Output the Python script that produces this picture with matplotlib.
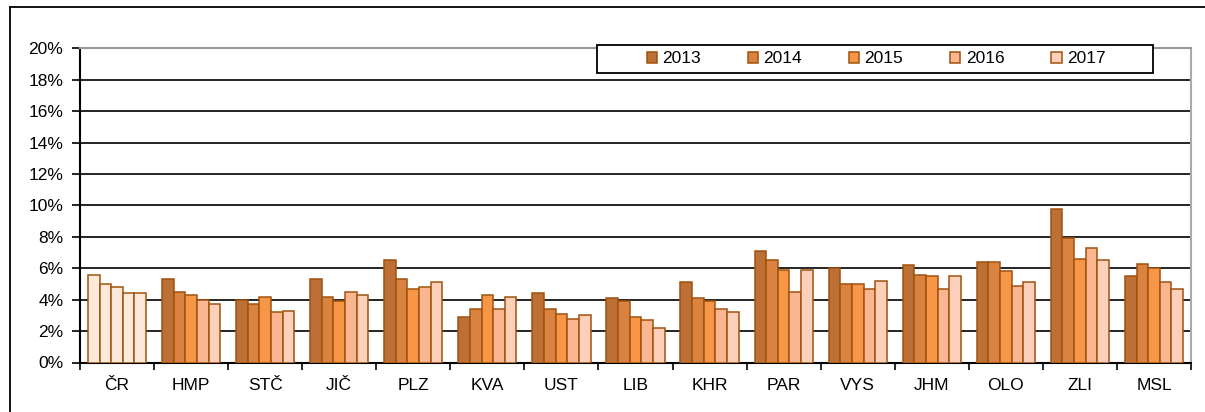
import numpy as np
import matplotlib
matplotlib.use("Agg")
import matplotlib.pyplot as plt
from matplotlib.ticker import PercentFormatter, FixedLocator
from matplotlib.patches import Rectangle
from matplotlib.lines import Line2D

plt.rcParams['font.family'] = ['Liberation Sans', 'DejaVu Sans']
plt.rcParams['font.size'] = 12.5

regions = ['ČR', 'HMP', 'STČ', 'JIČ', 'PLZ', 'KVA', 'UST', 'LIB',
           'KHR', 'PAR', 'VYS', 'JHM', 'OLO', 'ZLI', 'MSL']
years = ['2013', '2014', '2015', '2016', '2017']

# values in % per year, one entry per region
v2013 = [5.6, 5.3, 4.0, 5.3, 6.5, 2.9, 4.4, 4.1, 5.1, 7.1, 6.0, 6.2, 6.4, 9.8, 5.5]
v2014 = [5.0, 4.5, 3.7, 4.2, 5.3, 3.4, 3.4, 3.9, 4.1, 6.5, 5.0, 5.6, 6.4, 7.9, 6.3]
v2015 = [4.8, 4.3, 4.2, 3.9, 4.7, 4.3, 3.1, 2.9, 3.9, 5.9, 5.0, 5.5, 5.8, 6.6, 6.0]
v2016 = [4.4, 4.0, 3.2, 4.5, 4.8, 3.4, 2.8, 2.7, 3.4, 4.5, 4.7, 4.7, 4.9, 7.3, 5.1]
v2017 = [4.4, 3.7, 3.3, 4.3, 5.1, 4.2, 3.0, 2.2, 3.2, 5.9, 5.2, 5.5, 5.1, 6.5, 4.7]
series = [v2013, v2014, v2015, v2016, v2017]

colors = ['#BD7035', '#DA8340', '#F79646', '#FAB691', '#FCD0BA']
cr_color = '#FDE9DA'
edge = '#A0520F'

W, H = 1205, 412
fig = plt.figure(figsize=(W / 100, H / 100), dpi=100)
ax = fig.add_axes([80 / W, 1 - 362.5 / H, (1191 - 80) / W, (362.5 - 48.3) / H])

x = np.arange(len(regions))
bw = 0.157
for i, vals in enumerate(series):
    offs = (i - 2) * bw
    fc = [cr_color] + [colors[i]] * (len(regions) - 1)
    ax.bar(x + offs, vals, width=bw, color=fc, edgecolor=edge,
           linewidth=1.1, zorder=3)

ax.set_xlim(-0.5, len(regions) - 0.5)
ax.set_ylim(0, 20)
ax.yaxis.set_major_locator(FixedLocator(np.arange(0, 21, 2)))
ax.yaxis.set_major_formatter(PercentFormatter(decimals=0))
ax.grid(axis='y', color='black', linewidth=1.2, zorder=0)
ax.set_axisbelow(True)

# ticks at group boundaries, labels at centres
ax.set_xticks(np.arange(-0.5, len(regions), 1.0))
ax.set_xticklabels([])
ax.set_xticks(x, minor=True)
ax.set_xticklabels(regions, minor=True)
ax.tick_params(axis='x', which='major', length=5, width=1.2, direction='out')
ax.tick_params(axis='x', which='minor', length=0, pad=11)
ax.tick_params(axis='y', length=6, width=1.2, pad=6)

ax.spines['left'].set_color('black')
ax.spines['left'].set_linewidth(1.5)
ax.spines['bottom'].set_color('black')
ax.spines['bottom'].set_linewidth(1.5)
ax.spines['top'].set_color('#999999')
ax.spines['top'].set_linewidth(1.5)
ax.spines['right'].set_color('#aaaaaa')
ax.spines['right'].set_linewidth(1.5)

# legend box
box = Rectangle((597 / W, 1 - 72.5 / H), (1153 - 597) / W, 27.5 / H,
                transform=fig.transFigure, facecolor='white',
                edgecolor='black', linewidth=1.3, zorder=5)
fig.add_artist(box)
handles = [Rectangle((0, 0), 1, 1, facecolor=c, edgecolor=edge, linewidth=1.1)
           for c in colors]
leg = fig.legend(handles, years, loc='center', ncol=5,
                 bbox_to_anchor=(876 / W, 1 - 58.8 / H), frameon=False,
                 handlelength=0.6, handleheight=0.6, handletextpad=0.3,
                 columnspacing=2.7, borderpad=0, borderaxespad=0)
leg.set_zorder(6)

# outer chart border (left and top edges visible)
fig.add_artist(Line2D([10 / W, 10 / W], [0, 1 - 7 / H], transform=fig.transFigure,
                      color='black', linewidth=1.3))
fig.add_artist(Line2D([10 / W, 1], [1 - 7 / H, 1 - 7 / H], transform=fig.transFigure,
                      color='black', linewidth=1.3))

fig.savefig('out.png', dpi=100)
